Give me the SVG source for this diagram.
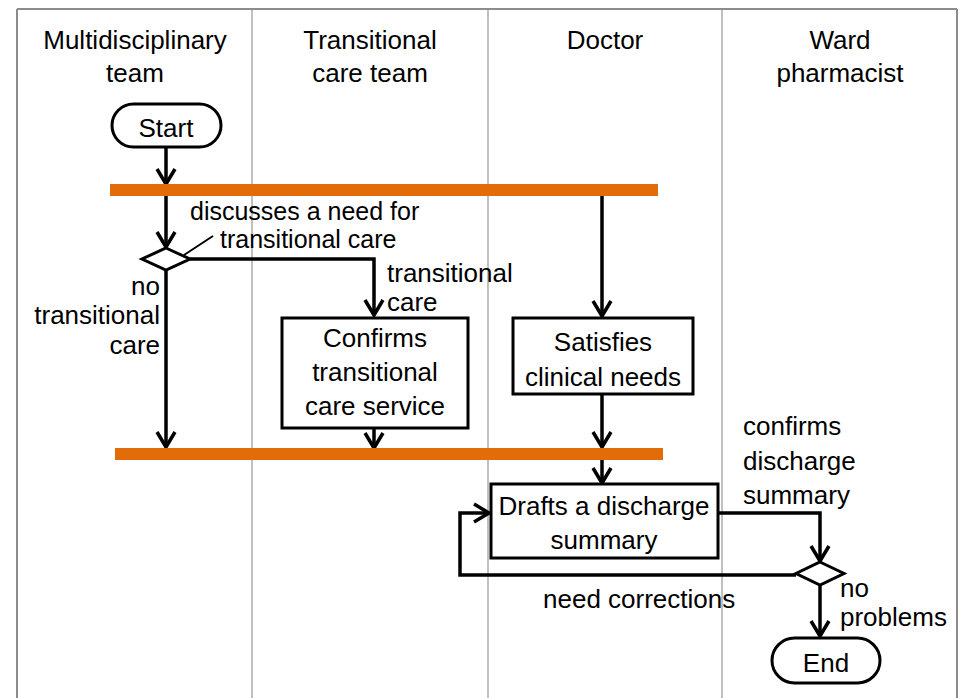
<svg xmlns="http://www.w3.org/2000/svg" width="968" height="698" viewBox="0 0 968 698">
  <style>
    text { font-family: "Liberation Sans", Arial, sans-serif; font-size: 26px; fill: #000; }
    .c { text-anchor: middle; }
    .r { text-anchor: end; }
    .tight { font-size: 25px; }
    .lane { stroke: #c0c0c0; stroke-width: 2; fill: none; }
    .frame { stroke: #8c8c8c; stroke-width: 2; fill: none; }
    .box { fill: #fff; stroke: #000; stroke-width: 3; }
    .bar { fill: #e36c0a; }
    .flow { fill: none; stroke: #000; stroke-width: 3.5; marker-end: url(#arrow); }
    .lead { fill: none; stroke: #000; stroke-width: 2; }
  </style>
  <defs>
    <marker id="arrow" markerUnits="userSpaceOnUse" markerWidth="24" markerHeight="24" viewBox="-18 -12 20 24" refX="0" refY="0" orient="auto">
      <path d="M-15,-9 L0,0 L-15,9" fill="none" stroke="#000" stroke-width="3.5"/>
    </marker>
  </defs>

  <!-- swimlane frame -->
  <g id="lanes">
    <line class="lane" x1="252" y1="9" x2="252" y2="698"/>
    <line class="lane" x1="488" y1="9" x2="488" y2="698"/>
    <line class="lane" x1="722" y1="9" x2="722" y2="698"/>
    <line class="frame" x1="17" y1="9" x2="957" y2="9"/>
    <line class="frame" x1="17" y1="9" x2="17" y2="698"/>
    <line class="frame" x1="957" y1="9" x2="957" y2="698" stroke="#a0a0a0"/>
  </g>

  <!-- lane headings -->
  <g id="headers">
    <text class="c" x="135" y="49" font-size="27">Multidisciplinary</text>
    <text class="c" x="135" y="82">team</text>
    <text class="c" x="370" y="49">Transitional</text>
    <text class="c" x="370" y="82">care team</text>
    <text class="c" x="605" y="49">Doctor</text>
    <text class="c" x="840" y="49">Ward</text>
    <text class="c" x="840" y="82">pharmacist</text>
  </g>

  <!-- connectors -->
  <g id="connectors">
    <line class="flow" x1="166" y1="147" x2="166" y2="184"/>
    <line class="flow" x1="166" y1="196" x2="166" y2="247"/>
    <line class="flow" x1="602" y1="196" x2="602" y2="316"/>
    <polyline class="flow" points="190,259 374,259 374,315"/>
    <line class="flow" x1="166" y1="270" x2="166" y2="447"/>
    <line class="flow" x1="374" y1="428" x2="374" y2="448"/>
    <line class="flow" x1="602" y1="394" x2="602" y2="447"/>
    <line class="flow" x1="602" y1="460" x2="602" y2="483"/>
    <polyline class="flow" points="718,513 820,513 820,561"/>
    <polyline class="flow" points="796,575 460,575 460,513 489,513"/>
    <line class="flow" x1="820" y1="585" x2="820" y2="636"/>
    <line class="lead" x1="184" y1="255" x2="213" y2="236"/>
  </g>

  <!-- synchronisation bars -->
  <g id="fork">
    <rect class="bar" x="110" y="184" width="548" height="12"/>
  </g>
  <g id="join">
    <rect class="bar" x="115" y="448" width="548" height="12"/>
  </g>

  <g id="start">
    <rect class="box" x="112" y="104" width="109" height="43" rx="21.5"/>
    <text class="c" x="166" y="137">Start</text>
  </g>

  <g id="decision-care">
    <polygon class="box" points="166,248 190,259 166,270 142,259"/>
    <text class="tight" x="190" y="220">discusses a need for</text>
    <text class="tight" x="220" y="248">transitional care</text>
    <text x="387" y="282">transitional</text>
    <text x="387" y="311">care</text>
    <text class="r" x="160" y="295">no</text>
    <text class="r" x="160" y="324" font-size="27">transitional</text>
    <text class="r" x="160" y="354">care</text>
  </g>

  <g id="confirm-service">
    <rect class="box" x="282" y="318" width="186" height="110"/>
    <text class="c" x="375" y="347">Confirms</text>
    <text class="c" x="375" y="381">transitional</text>
    <text class="c" x="375" y="415">care service</text>
  </g>

  <g id="clinical-needs">
    <rect class="box" x="513" y="318" width="180" height="76"/>
    <text class="c" x="603" y="351">Satisfies</text>
    <text class="c" x="603" y="386">clinical needs</text>
  </g>

  <g id="draft-summary">
    <rect class="box" x="491" y="484" width="227" height="74"/>
    <text class="c" x="604" y="515">Drafts a discharge</text>
    <text class="c" x="604" y="549">summary</text>
  </g>

  <g id="decision-check">
    <polygon class="box" points="820,562 844,573.5 820,585 796,573.5"/>
    <text x="743" y="435">confirms</text>
    <text x="743" y="470">discharge</text>
    <text x="743" y="504">summary</text>
    <text x="543" y="608">need corrections</text>
    <text x="840" y="597">no</text>
    <text x="840" y="626">problems</text>
  </g>

  <g id="end">
    <rect class="box" x="772" y="638" width="108" height="45" rx="22.5"/>
    <text class="c" x="826" y="672">End</text>
  </g>
</svg>
